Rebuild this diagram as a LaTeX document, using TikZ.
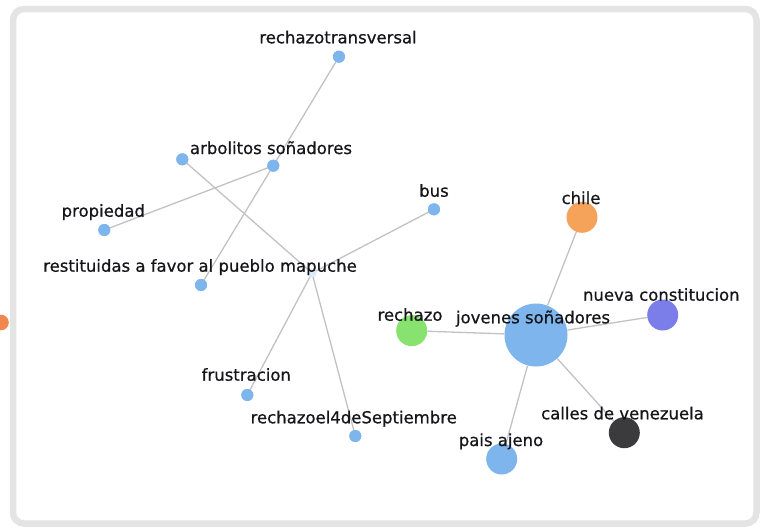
\documentclass[tikz,border=0pt]{standalone}
\usepackage{fontspec}
\setmainfont{DejaVu Sans}
\newfontfamily\labelfont[FakeBold=0.7]{DejaVu Sans}
\definecolor{framegray}{HTML}{E4E4E4}
\definecolor{edgegray}{HTML}{C2C2C2}
\definecolor{dotblue}{HTML}{7DB5EC}
\definecolor{hubblue}{HTML}{DCEAF9}
\definecolor{chileorange}{HTML}{F5A25A}
\definecolor{nuevapurple}{HTML}{7B7DE8}
\definecolor{rechazogreen}{HTML}{88E26F}
\definecolor{callesdark}{HTML}{3B3B3D}
\definecolor{sideorange}{HTML}{F0874F}
\definecolor{labeltext}{HTML}{16161A}
\tikzset{
  smalldot/.style={circle, fill=dotblue, inner sep=0pt, minimum size=12pt},
  bigdot/.style={circle, inner sep=0pt, minimum size=31pt},
  link/.style={draw=edgegray, line width=1.3pt},
  lbl/.style={anchor=base, inner sep=0pt, text=labeltext, font=\labelfont\fontsize{16.5}{18}\selectfont}
}
\begin{document}
\begin{tikzpicture}[x=1pt,y=-1pt]
\useasboundingbox (0,0) rectangle (769,531);
\draw[framegray, line width=6.5pt, rounded corners=11pt] (13,9) rectangle (756.5,523.5);
\fill[sideorange] (1,322.5) circle (7.8);

% nodes (circles)
\node[smalldot] (rt) at (339,56.7) {};
\node[smalldot] (arb) at (273.3,165.7) {};
\node[smalldot] (un) at (182.3,159.3) {};
\node[smalldot] (prop) at (104.3,230) {};
\node[smalldot] (rest) at (201,285) {};
\node[smalldot] (bus) at (434,209.3) {};
\node[circle, fill=hubblue, inner sep=0pt, minimum size=9pt] (hub) at (312,273) {};
\node[smalldot] (fru) at (247.3,395) {};
\node[smalldot] (r4) at (355.3,436) {};

\node[circle, fill=dotblue, inner sep=0pt, minimum size=63pt] (jov) at (536,335) {};
\node[bigdot, fill=chileorange] (chile) at (582,217.3) {};
\node[bigdot, fill=nuevapurple] (nueva) at (662.7,315) {};
\node[bigdot, fill=rechazogreen] (rech) at (411.7,330.7) {};
\node[bigdot, fill=callesdark] (calles) at (624.3,432.7) {};
\node[bigdot, fill=dotblue] (pais) at (501.7,459) {};

% edges
\draw[link] (rt.center) -- (arb.center);
\draw[link] (arb.center) -- (prop.center);
\draw[link] (arb.center) -- (rest.center);
\draw[link] (un.center) -- (hub.center);
\draw[link] (bus.center) -- (hub.center);
\draw[link] (fru.center) -- (hub.center);
\draw[link] (r4.center) -- (hub.center);
\draw[link] (jov) -- (chile);
\draw[link] (jov) -- (nueva);
\draw[link] (jov) -- (rech);
\draw[link] (jov) -- (calles);
\draw[link] (jov) -- (pais);

% redraw small dots over edge ends
\foreach \n in {rt,arb,un,prop,rest,bus,fru,r4} {\fill[dotblue] (\n) circle (6);}
\fill[hubblue] (hub) circle (4.5);

% labels
\node[lbl] (lrt) at (338,43.3) {rechazotransversal};
\node[lbl] (larb) at (271,154) {arbolitos soñadores};
\node[lbl] (lprop) at (103.3,216.7) {propiedad};
\node[lbl] (lbus) at (434,196.7) {bus};
\node[lbl] (lrest) at (200,271.7) {restituidas a favor al pueblo mapuche};
\node[lbl] (lfru) at (246.3,380.7) {frustracion};
\node[lbl] (lr4) at (353.7,423.3) {rechazoel4deSeptiembre};
\node[lbl] (lchile) at (581,204) {chile};
\node[lbl] (lnueva) at (661.3,300.7) {nueva constitucion};
\node[lbl] (lrech) at (410,320.7) {rechazo};
\node[lbl] (ljov) at (533,323.3) {jovenes soñadores};
\node[lbl] (lcalles) at (622.5,419.3) {calles de venezuela};
\node[lbl] (lpais) at (501,446) {pais ajeno};
\end{tikzpicture}
\end{document}
